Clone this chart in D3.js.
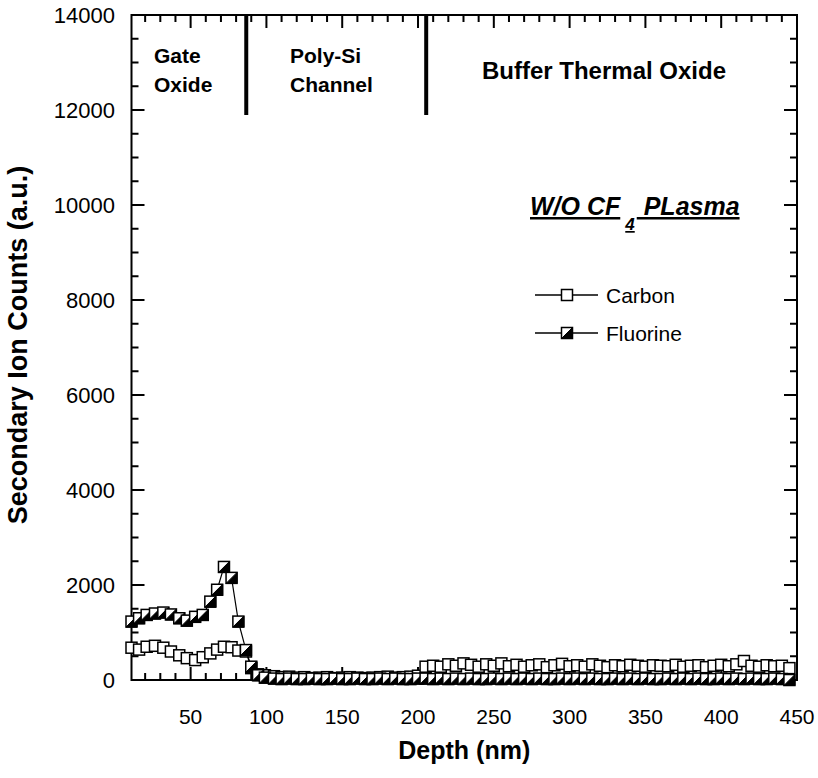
<!DOCTYPE html>
<html>
<head>
<meta charset="utf-8">
<script src="https://cdn.jsdelivr.net/npm/d3@7"></script>
<style>
body { margin: 0; background: #fff; }
svg text { font-family: Arial, "Liberation Sans", sans-serif; fill: #000; }
</style>
</head>
<body>
<div id="chart"></div>
<script>
// depth (nm) of each SIMS point
const depth = [11, 16, 21, 26.5, 32, 37, 42.5, 47.5, 53, 58, 63, 67.5, 72, 77, 81.5, 86.5, 90, 94.5, 99,
  105, 110, 115, 120, 125, 130, 135, 140, 145, 150, 155, 160, 165, 170, 175, 180, 185, 190, 195, 200,
  205, 210, 215, 220, 225, 230, 235, 240, 245, 250, 255, 260, 265, 270, 275, 280, 285, 290, 295, 300,
  305, 310, 315, 320, 325, 330, 335, 340, 345, 350, 355, 360, 365, 370, 375, 380, 385, 390, 395, 400,
  405, 410, 415, 420, 425, 430, 435, 440, 445];

const carbon = [680, 640, 700, 720, 680, 600, 520, 460, 420, 480, 560, 640, 700, 690, 620, 600, 250, 120, 100,
  80, 60, 70, 50, 60, 40, 50, 60, 40, 50, 60, 50, 40, 50, 60, 70, 50, 60, 70, 90,
  280, 300, 280, 330, 300, 350, 320, 280, 330, 300, 350, 290, 320, 280, 310, 330, 270, 310, 340, 290,
  310, 280, 330, 300, 270, 310, 290, 320, 300, 280, 310, 300, 290, 320, 280, 300, 310, 270, 300, 320,
  290, 330, 400, 300, 280, 310, 290, 300, 250];

const fluorine = [1230, 1300, 1370, 1400, 1420, 1380, 1300, 1250, 1330, 1370, 1650, 1900, 2380, 2150, 1230, 630, 280, 100, 50,
  30, 20, 30, 20, 20, 30, 20, 20, 30, 20, 20, 30, 20, 20, 30, 20, 30, 20, 20, 30,
  30, 20, 30, 20, 30, 20, 30, 20, 20, 30, 20, 30, 20, 30, 20, 30, 20, 20, 30, 20,
  30, 20, 30, 20, 20, 30, 20, 30, 20, 30, 20, 20, 30, 20, 30, 20, 30, 20, 20, 30,
  20, 30, 20, 30, 20, 20, 30, 20, 0];

const xTicks = [50, 100, 150, 200, 250, 300, 350, 400, 450];
const yTicks = [0, 2000, 4000, 6000, 8000, 10000, 12000, 14000];
const layerEdges = [86.7, 205.4];
const seriesNames = ["Carbon", "Fluorine"];

const width = 818, height = 778;
const L = 131.5, R = 797, T = 15, B = 680;

const x = d3.scaleLinear().domain([11, 450]).range([L, R]);
const y = d3.scaleLinear().domain([0, 14000]).range([B, T]);

const xMinor = d3.range(20, 450, 10).filter(v => v % 50 != 0);
const yMinor = d3.range(500, 14000, 500).filter(v => v % 2000 != 0);

const svg = d3.select("#chart").append("svg")
    .attr("width", width)
    .attr("height", height);

svg.append("rect")
    .attr("x", L).attr("y", T)
    .attr("width", R - L).attr("height", B - T)
    .attr("fill", "none").attr("stroke", "#000").attr("stroke-width", 2);

// inward ticks on all four sides
const xt = xTicks.map(v => ({ v: v, len: 13 })).concat(xMinor.map(v => ({ v: v, len: 7 })));
const yt = yTicks.map(v => ({ v: v, len: 13 })).concat(yMinor.map(v => ({ v: v, len: 7 })));
const tickG = svg.append("g").attr("fill", "#000");
[B, T].forEach(edge => {
    const dir = edge == B ? -1 : 1;
    tickG.selectAll(null).data(xt).enter().append("rect")
        .attr("x", d => x(d.v) - 1)
        .attr("y", d => dir < 0 ? edge - d.len : edge)
        .attr("width", 2)
        .attr("height", d => d.len);
});
[L, R].forEach(edge => {
    const dir = edge == L ? 1 : -1;
    tickG.selectAll(null).data(yt).enter().append("rect")
        .attr("x", d => dir > 0 ? edge : edge - d.len)
        .attr("y", d => y(d.v) - 1)
        .attr("width", d => d.len)
        .attr("height", 2);
});

svg.selectAll(".xl").data(xTicks).enter().append("text")
    .attr("x", d => x(d)).attr("y", 724)
    .attr("text-anchor", "middle").attr("font-size", 21)
    .text(d => d);
svg.selectAll(".yl").data(yTicks).enter().append("text")
    .attr("x", 115).attr("y", d => y(d) + 8)
    .attr("text-anchor", "end").attr("font-size", 22)
    .text(d => d);

// layer boundaries
svg.selectAll(".edge").data(layerEdges).enter().append("line")
    .attr("x1", d => x(d)).attr("x2", d => x(d))
    .attr("y1", T).attr("y2", 115)
    .attr("stroke", "#000").attr("stroke-width", 4);

const regionText = [
    { t: ["Gate", "Oxide"], x: 154, y: 63, anchor: "start", fs: 21 },
    { t: ["Poly-Si", "Channel"], x: 290, y: 63, anchor: "start", fs: 21 },
    { t: ["Buffer Thermal Oxide"], x: 604, y: 79, anchor: "middle", fs: 24 }
];
regionText.forEach(r => {
    r.t.forEach((s, i) => {
        svg.append("text")
            .attr("x", r.x).attr("y", r.y + i * 29)
            .attr("text-anchor", r.anchor)
            .attr("font-size", r.fs).attr("font-weight", "bold")
            .text(s);
    });
});

// series
const carbonPts = depth.map((d, i) => [d, carbon[i]]);
const fluorPts = depth.map((d, i) => [d, fluorine[i]]);
const line = d3.line().x(d => x(d[0])).y(d => y(d[1]));
const ms = 5.5;

function openSquare(g, cx, cy) {
    g.append("rect")
        .attr("x", cx - ms).attr("y", cy - ms)
        .attr("width", 2 * ms).attr("height", 2 * ms)
        .attr("fill", "#fff").attr("stroke", "#000").attr("stroke-width", 1.5);
}
function halfSquare(g, cx, cy) {
    openSquare(g, cx, cy);
    g.append("path")
        .attr("d", `M${cx + ms},${cy - ms}L${cx + ms},${cy + ms}L${cx - ms},${cy + ms}Z`)
        .attr("fill", "#000").attr("stroke", "#000").attr("stroke-width", 1);
}

const gC = svg.append("g");
gC.append("path").datum(carbonPts).attr("d", line)
    .attr("fill", "none").attr("stroke", "#000").attr("stroke-width", 1.2);
carbonPts.forEach(p => openSquare(gC, x(p[0]), y(p[1])));

const gF = svg.append("g");
gF.append("path").datum(fluorPts).attr("d", line)
    .attr("fill", "none").attr("stroke", "#000").attr("stroke-width", 1.2);
fluorPts.forEach(p => halfSquare(gF, x(p[0]), y(p[1])));

// legend
const legY = [295, 333];
seriesNames.forEach((name, i) => {
    const g = svg.append("g");
    g.append("line").attr("x1", 535).attr("x2", 598).attr("y1", legY[i]).attr("y2", legY[i])
        .attr("stroke", "#000").attr("stroke-width", 1.4);
    if (i == 0) openSquare(g, 567, legY[i]);
    else halfSquare(g, 567, legY[i]);
    g.append("text").attr("x", 606).attr("y", legY[i] + 7.5)
        .attr("font-size", 21).text(name);
});

// title with subscript
const ttl = svg.append("g").attr("font-weight", "bold").attr("font-style", "italic");
const t1 = ttl.append("text").attr("x", 530).attr("y", 215).attr("font-size", 25)
    .style("text-decoration", "underline").text("W/O CF");
let xx = 530 + t1.node().getComputedTextLength() + 5;
const t2 = ttl.append("text").attr("x", xx).attr("y", 230).attr("font-size", 17)
    .style("text-decoration", "underline").text("4");
xx += t2.node().getComputedTextLength() + 2;
ttl.append("text").attr("x", xx).attr("y", 215).attr("font-size", 25)
    .style("text-decoration", "underline").style("white-space", "pre").text(" PLasma");

// axis titles
svg.append("text")
    .attr("x", (L + R) / 2).attr("y", 759)
    .attr("text-anchor", "middle")
    .attr("font-size", 25).attr("font-weight", "bold")
    .text("Depth (nm)");

svg.append("text")
    .attr("transform", `translate(27,345) rotate(-90)`)
    .attr("text-anchor", "middle")
    .attr("font-size", 27).attr("font-weight", "bold")
    .text("Secondary Ion Counts (a.u.)");
</script>
</body>
</html>
